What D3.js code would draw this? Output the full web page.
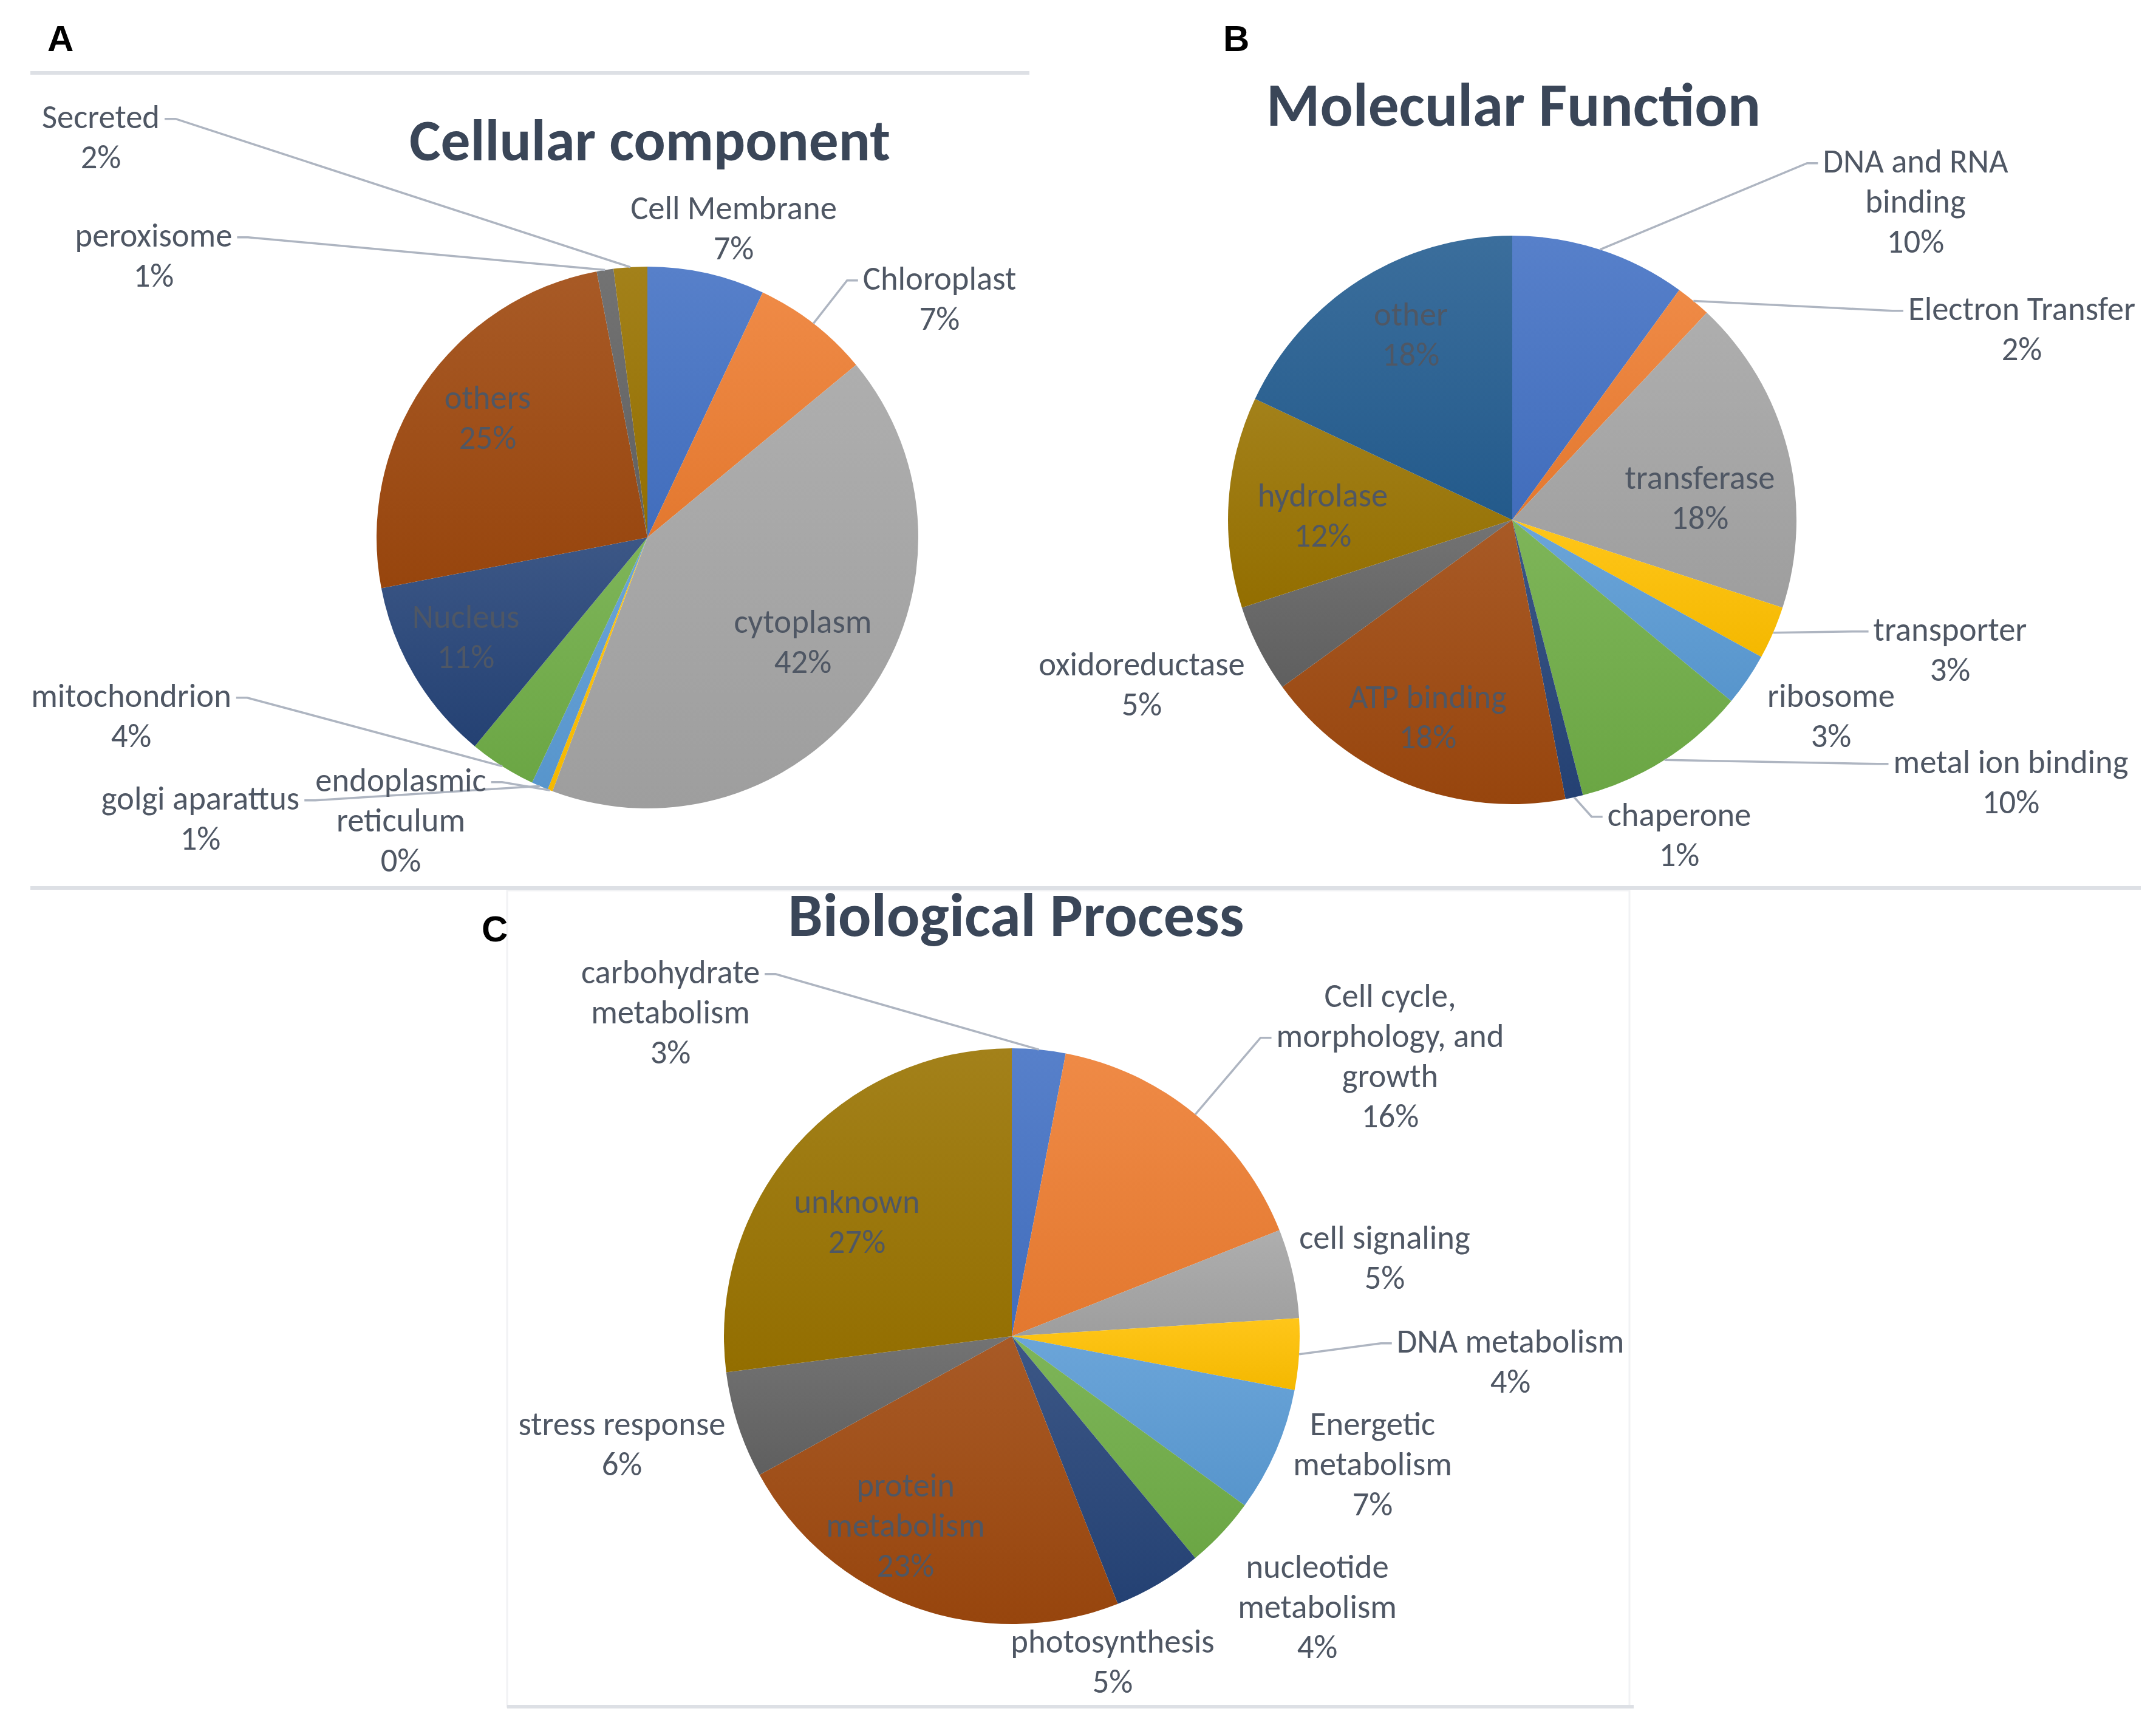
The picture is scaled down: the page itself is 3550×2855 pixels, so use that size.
<!DOCTYPE html>
<html>
<head>
<meta charset="utf-8">
<script src="https://cdn.jsdelivr.net/npm/d3@7"></script>
<style>
  body { margin: 0; background: #fff; }
  svg { display: block; }
</style>
</head>
<body>
<svg id="fig" width="3550" height="2855"></svg>
<script>
// ---- data (clockwise from 12 o'clock) ----
var ccNames = ["Cell Membrane", "Chloroplast", "cytoplasm", "endoplasmic\nreticulum", "golgi aparattus",
               "mitochondrion", "Nucleus", "others", "peroxisome", "Secreted"];
var ccValues = [7, 7, 41.7, 0.3, 1, 4, 11, 25, 1, 2];

var mfNames = ["DNA and RNA\nbinding", "Electron Transfer", "transferase", "transporter", "ribosome",
               "metal ion binding", "chaperone", "ATP binding", "oxidoreductase", "hydrolase", "other"];
var mfValues = [10, 2, 18, 3, 3, 10, 1, 18, 5, 12, 18];

var bpNames = ["carbohydrate\nmetabolism", "Cell cycle,\nmorphology, and\ngrowth", "cell signaling", "DNA metabolism",
               "Energetic\nmetabolism", "nucleotide\nmetabolism", "photosynthesis", "protein\nmetabolism",
               "stress response", "unknown"];
var bpValues = [3, 16, 5, 4, 7, 4, 5, 23, 6, 27];

var officeColors = ["#4472C4", "#ED7D31", "#A5A5A5", "#FFC000", "#5B9BD5", "#70AD47",
                    "#264478", "#9E480E", "#636363", "#997300", "#255E91"];

// ---- layout (hand placed like the Excel labels) ----
var ccLayout = {
  cx: 1066, cy: 885, r: 446,
  title: "Cellular component", titleX: 1070, titleY: 264, titleW: 792,
  letter: "A", letterX: 78, letterY: 84,
  labelXY: [[1208, 361], [1547, 477], [1322, 1042], [660, 1303], [330, 1333],
            [216, 1164], [767, 1034], [803, 673], [253, 406], [166, 211]],
  leader: [null, "L0", null, "R0", "R0", "R0", null, null, "R0", "R0"]
};
var mfLayout = {
  cx: 2490, cy: 856, r: 468,
  title: "Molecular Function", titleX: 2492, titleY: 207, titleW: 814,
  letter: "B", letterX: 2014, letterY: 84,
  labelXY: [[3154, 284], [3329, 527], [2799, 805], [3211, 1055], [3015, 1164],
            [3311, 1273], [2765, 1360], [2351, 1166], [1880, 1112], [2178, 834], [2323, 536]],
  leader: ["L0", "L0", null, "L0", null, "L0", "L0", null, null, null, null]
};
var bpLayout = {
  cx: 1666, cy: 2200, r: 474,
  title: "Biological Process", titleX: 1673, titleY: 1541, titleW: 751,
  letter: "C", letterX: 793, letterY: 1550,
  labelXY: [[1104, 1619], [2289, 1658], [2280, 2056], [2487, 2227], [2260, 2363],
            [2169, 2598], [1832, 2721], [1491, 2464], [1024, 2363], [1411, 1997]],
  leader: ["R0", "L1", null, "L0", null, null, null, null, null, null]
};

var svg = d3.select("#fig");
var fontStack = "Carlito, Calibri, Lato, 'Open Sans', sans-serif";
var labelColor = "#4F5764";
var titleColor = "#3A4658";
var lineHeight = 66;

// gradients: each slice a little lighter at top
var defs = svg.append("defs");
officeColors.forEach(function (c, i) {
  var lg = defs.append("linearGradient").attr("id", "grad" + i)
    .attr("x1", 0).attr("y1", 0).attr("x2", 0).attr("y2", 1);
  lg.append("stop").attr("offset", "0%").attr("stop-color", d3.interpolateRgb(c, "#fff")(0.1));
  lg.append("stop").attr("offset", "100%").attr("stop-color", d3.color(c).darker(0.12));
});

// frame lines of the figure
var frame = svg.append("g").attr("stroke-linecap", "butt");
frame.append("rect").attr("x", 835).attr("y", 1466).attr("width", 1848).attr("height", 1344)
  .attr("fill", "none").attr("stroke", "#F1F2F4").attr("stroke-width", 3);
frame.append("line").attr("x1", 50).attr("x2", 1695).attr("y1", 120).attr("y2", 120)
  .attr("stroke", "#DDE0E5").attr("stroke-width", 6);
frame.append("line").attr("x1", 50).attr("x2", 3525).attr("y1", 1462).attr("y2", 1462)
  .attr("stroke", "#DDE0E5").attr("stroke-width", 6);
frame.append("line").attr("x1", 835).attr("x2", 2690).attr("y1", 2810).attr("y2", 2810)
  .attr("stroke", "#DDE0E5").attr("stroke-width", 6);

// label font size fitted so "cytoplasm" spans ~227px like the reference
var probe = svg.append("text").attr("font-family", fontStack).attr("font-size", 52).text("cytoplasm");
var labelSize = Math.max(42, Math.min(56, 52 * 227 / probe.node().getComputedTextLength()));
probe.remove();

function drawPie(names, values, L) {
  var g = svg.append("g");
  var total = d3.sum(values);
  var data = names.map(function (n, i) { return { name: n, value: values[i], idx: i }; });
  var arcs = d3.pie().sort(null).value(function (d) { return d.value; })(data);
  var arc = d3.arc().innerRadius(0).outerRadius(L.r);
  var edge = d3.arc().innerRadius(L.r).outerRadius(L.r);

  var pieG = g.append("g").attr("transform", "translate(" + L.cx + "," + L.cy + ")");
  pieG.selectAll("path").data(arcs).enter().append("path")
    .attr("d", arc)
    .attr("fill", function (d) { return "url(#grad" + d.data.idx + ")"; });

  var leaderG = g.append("g");
  var labelG = g.append("g");

  arcs.forEach(function (d, i) {
    var lines = d.data.name.split("\n");
    lines.push(Math.round(d.data.value / total * 100) + "%");
    var x = L.labelXY[i][0], y = L.labelXY[i][1];
    var t = labelG.append("text")
      .attr("text-anchor", "middle")
      .attr("font-family", fontStack)
      .attr("font-size", labelSize)
      .attr("font-weight", 500)
      .attr("fill", labelColor);
    var spans = lines.map(function (s, k) {
      return t.append("tspan").attr("x", x).attr("y", y + k * lineHeight).text(s);
    });

    var spec = L.leader[i];
    if (spec) {
      var k = +spec.charAt(1);
      var w = spans[k].node().getComputedTextLength();
      var ly = y + k * lineHeight - labelSize * 0.28;
      var p0, p1;
      if (spec.charAt(0) === "L") {
        p0 = [x - w / 2 - 8, ly];
        p1 = [p0[0] - 18, ly];
      } else {
        p0 = [x + w / 2 + 8, ly];
        p1 = [p0[0] + 18, ly];
      }
      var c = edge.centroid(d);
      var p2 = [L.cx + c[0], L.cy + c[1]];
      leaderG.append("path")
        .attr("d", d3.line()([p0, p1, p2]))
        .attr("fill", "none")
        .attr("stroke", "#AEB5C1")
        .attr("stroke-width", 3.5);
    }
  });

  // chart title, fitted to the reference width
  var title = g.append("text")
    .attr("x", L.titleX).attr("y", L.titleY)
    .attr("text-anchor", "middle")
    .attr("font-family", fontStack)
    .attr("font-weight", "bold")
    .attr("font-size", 90)
    .attr("fill", titleColor)
    .text(L.title);
  var tw = title.node().getComputedTextLength();
  title.attr("font-size", 90 * L.titleW / tw);

  // panel letter
  g.append("text")
    .attr("x", L.letterX).attr("y", L.letterY)
    .attr("font-family", "Arial, 'Liberation Sans', sans-serif")
    .attr("font-weight", "bold")
    .attr("font-size", 60)
    .attr("fill", "#000")
    .text(L.letter);
}

drawPie(ccNames, ccValues, ccLayout);
drawPie(mfNames, mfValues, mfLayout);
drawPie(bpNames, bpValues, bpLayout);
</script>
</body>
</html>
